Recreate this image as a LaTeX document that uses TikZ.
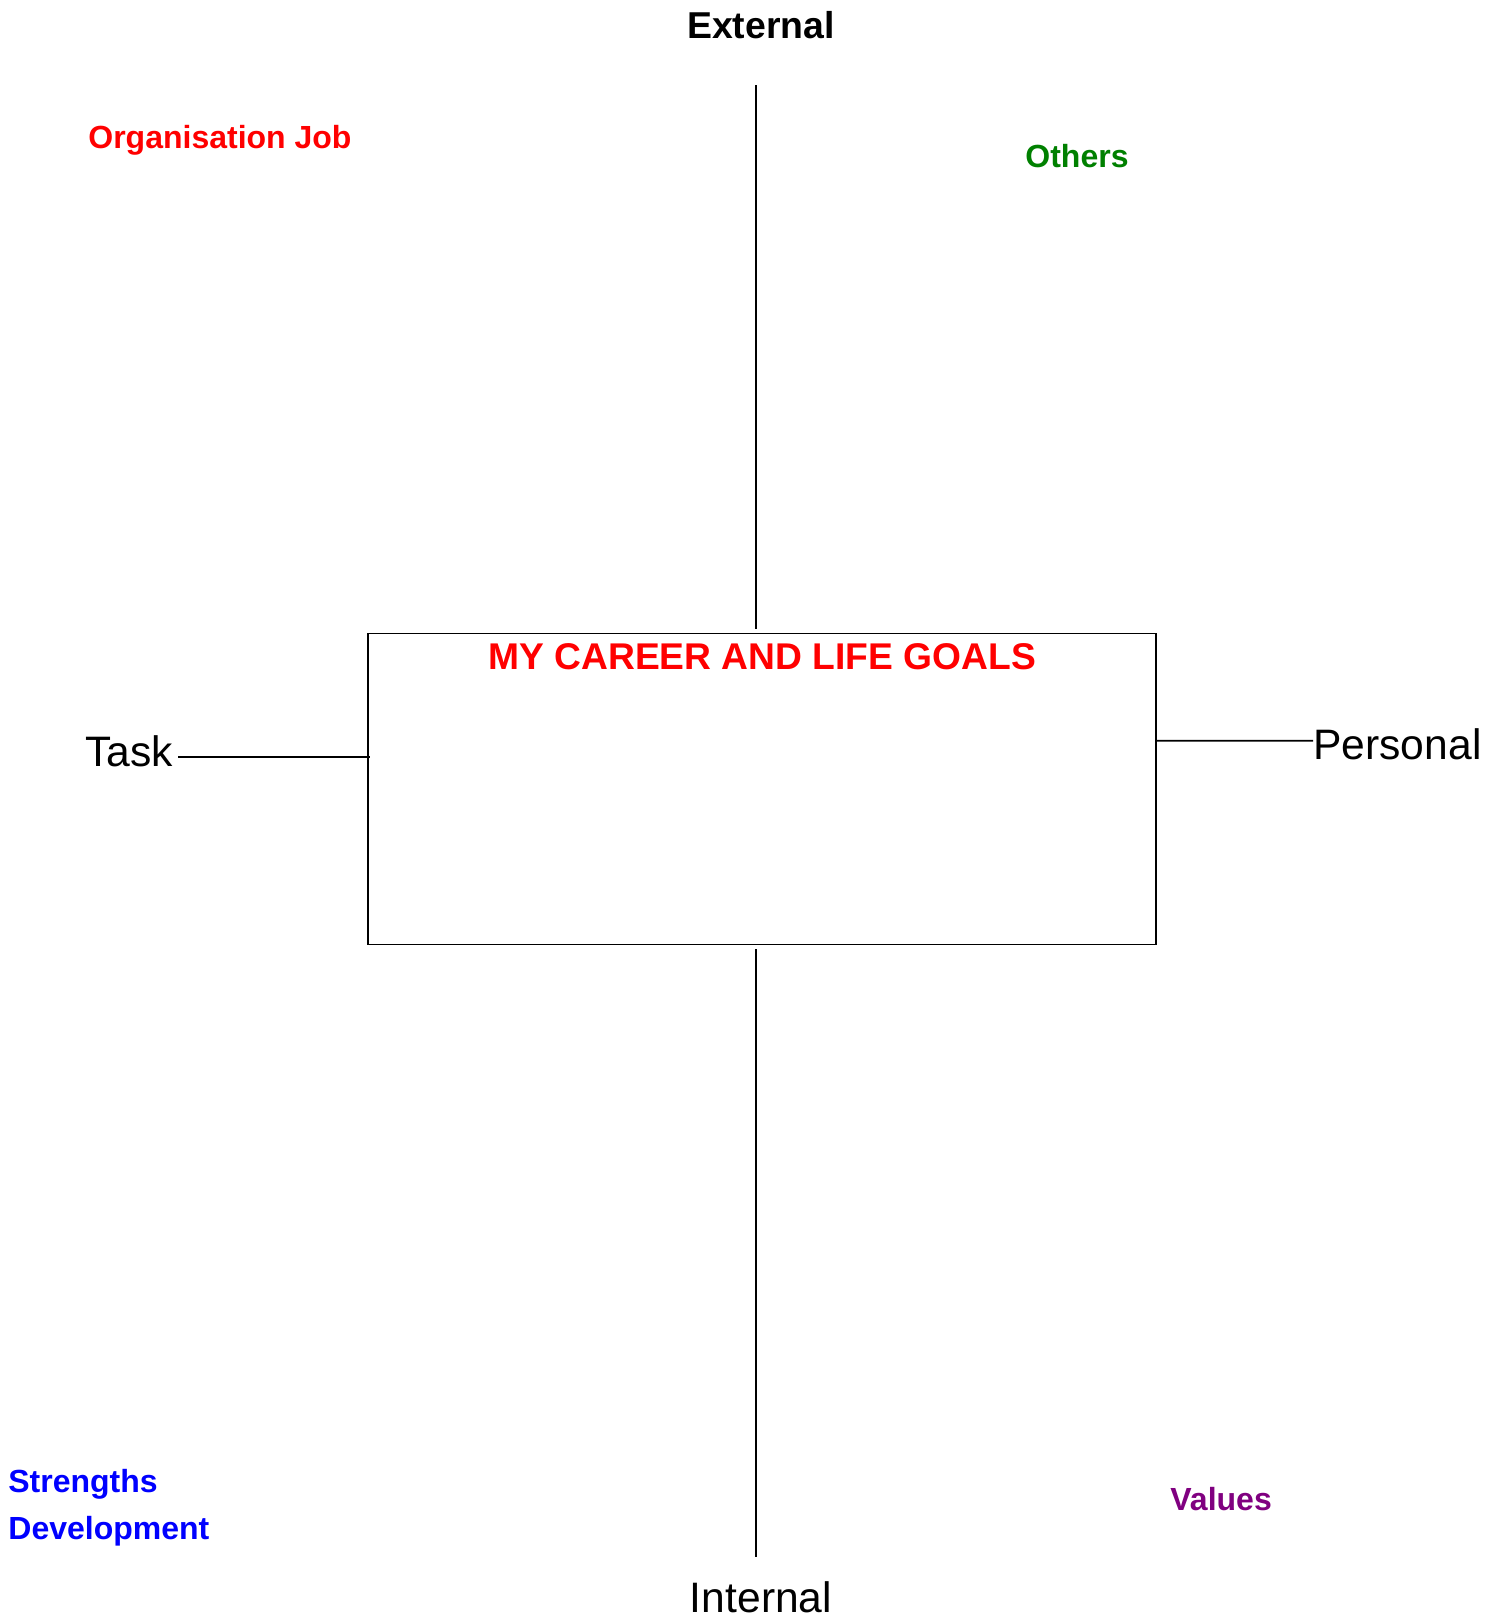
\documentclass[tikz,border=0pt]{standalone}
\usepackage{fontspec}
\setmainfont{Liberation Sans}
\usetikzlibrary{positioning}
\definecolor{goalred}{RGB}{255,0,0}
\definecolor{othersgreen}{RGB}{0,128,0}
\definecolor{strengthblue}{RGB}{0,0,255}
\definecolor{valuepurple}{RGB}{128,0,128}
\begin{document}
\begin{tikzpicture}[x=0.5pt, y=-0.5pt,
  axis/.style={draw=black, line width=0.85pt},
  goalbox/.style={draw=black, line width=0.85pt, fill=white, minimum width=394pt, minimum height=155.5pt, inner sep=0pt, outer sep=0pt},
  heading/.style={inner sep=0pt, text=goalred, font=\fontsize{18.6}{22}\selectfont\bfseries},
  pole/.style={inner sep=0pt, font=\fontsize{21.3}{25}\selectfont},
  quadrant/.style={inner sep=0pt, font=\fontsize{16}{19}\selectfont\bfseries}]
  \useasboundingbox (0,0) rectangle (1500,1619);
  \node [goalbox, anchor=north west](goals) at (368.3,633.6) {};
  \node [heading, anchor=base](title) at ([yshift=-18pt]goals.north) {MY CAREER AND LIFE GOALS};
  \node [pole, anchor=base, font=\fontsize{18.7}{22}\selectfont\bfseries](external) at (761,38.3) {External};
  \node [pole, anchor=base](internal) at (761,1612.7) {Internal};
  \node [pole, anchor=base east](task) at (173,766.7) {Task};
  \node [pole, anchor=base west](personal) at (1313,759.3) {Personal};
  \node [quadrant, anchor=base west, text=goalred](organisation) at (88,148.7) {Organisation Job};
  \node [quadrant, anchor=base west, text=othersgreen](others) at (1025,167.7) {Others};
  \node [quadrant, anchor=base west, text=strengthblue](strengths) at (8,1492.7) {Strengths};
  \node [quadrant, anchor=base west, text=strengthblue](development) at ([yshift=-23.3pt]strengths.base west) {Development};
  \node [quadrant, anchor=base west, text=valuepurple](values) at (1170,1510.7) {Values};
  \draw [axis] (goals.north) ++(-6.3,-4.9) -- ++(0,-544.1);
  \draw [axis] (goals.south) ++(-6.3,4.4) -- ++(0,608);
  \draw [axis] (task.base east) ++(5,-10) -- ++(192,0);
  \draw [axis] (goals.east) ++(0,-48.4) -- (personal.base west |- 0,740.7);
\end{tikzpicture}
\end{document}
